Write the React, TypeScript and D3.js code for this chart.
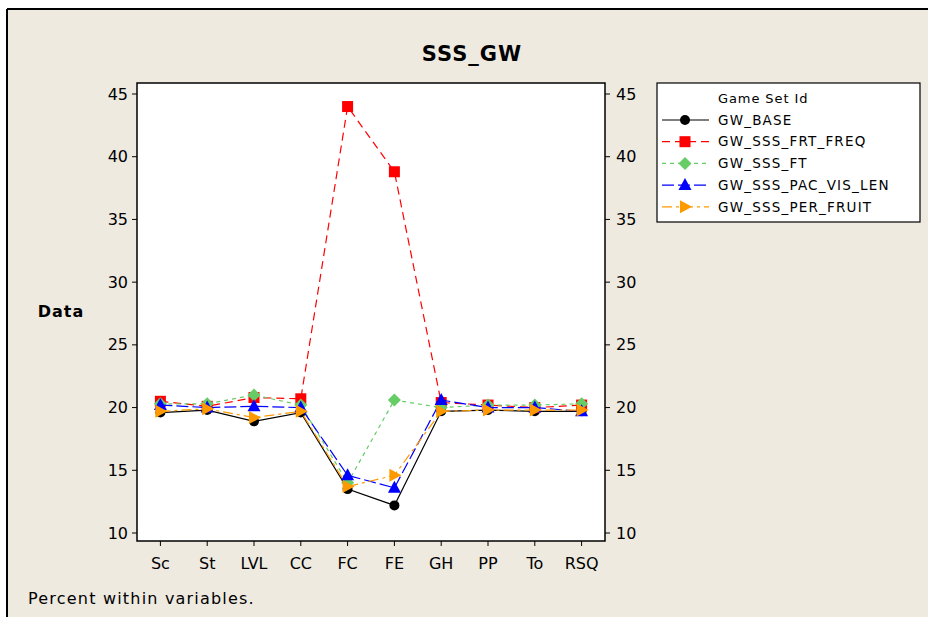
import React from "react";
import * as d3 from "d3";

const categories = ["Sc", "St", "LVL", "CC", "FC", "FE", "GH", "PP", "To", "RSQ"];
const gwBase = [19.6, 19.8, 18.9, 19.6, 13.5, 12.2, 19.7, 19.8, 19.7, 19.7];
const gwFrtFreq = [20.5, 20.1, 20.8, 20.7, 44.0, 38.8, 20.4, 20.2, 20.0, 20.2];
const gwFt = [20.3, 20.3, 21.0, 20.2, 14.0, 20.6, 20.0, 20.2, 20.2, 20.3];
const gwPacVisLen = [20.2, 20.0, 20.1, 20.0, 14.6, 13.6, 20.6, 20.0, 20.0, 19.7];
const gwPerFruit = [19.7, 19.9, 19.2, 19.7, 13.7, 14.6, 19.7, 19.8, 19.8, 19.8];
const yTicks = [10, 15, 20, 25, 30, 35, 40, 45];

const seriesNames = ["GW_BASE", "GW_SSS_FRT_FREQ", "GW_SSS_FT", "GW_SSS_PAC_VIS_LEN", "GW_SSS_PER_FRUIT"];
const seriesValues = [gwBase, gwFrtFreq, gwFt, gwPacVisLen, gwPerFruit];
const seriesColors = ["#000000", "#ff0000", "#66cc66", "#0000ff", "#ff9900"];
const seriesDash = ["", "8,5", "4,4", "12,4", "10,4,3,4"];
const seriesShapes = ["circle", "square", "diamond", "triangle", "right"];

const FONT = "'DejaVu Sans', Verdana, sans-serif";

function Marker({ shape, x, y, color }: { shape: string; x: number; y: number; color: string }) {
  if (shape === "circle") return <circle cx={x} cy={y} r={5} fill={color} />;
  if (shape === "square") return <rect x={x - 5.5} y={y - 5.5} width={11} height={11} fill={color} />;
  if (shape === "diamond")
    return <path d={`M${x},${y - 6.5}L${x + 6.5},${y}L${x},${y + 6.5}L${x - 6.5},${y}Z`} fill={color} />;
  if (shape === "triangle")
    return <path d={`M${x},${y - 7}L${x + 6.5},${y + 5}L${x - 6.5},${y + 5}Z`} fill={color} />;
  return <path d={`M${x + 7},${y}L${x - 5},${y + 6.5}L${x - 5},${y - 6.5}Z`} fill={color} />;
}

export default function App() {
  const W = 928, H = 617;
  const left = 137, right = 605, top = 83, bottom = 541;
  const x = d3.scalePoint<string>().domain(categories).range([left, right]).padding(0.5);
  const y = d3.scaleLinear().domain([10, 45]).range([533, 94]);
  const line = d3.line<number>().x((_, i) => x(categories[i])!).y((d) => y(d));

  return (
    <svg width={W} height={H} style={{ position: "absolute", left: 0, top: 0 }}>
      <rect x={0} y={0} width={W} height={H} fill="#ffffff" />
      <rect x={7} y={9} width={W - 7} height={H - 9} fill="#eeeae0" />
      <line x1={7} y1={9} x2={W} y2={9} stroke="#000" strokeWidth={2} />
      <line x1={7} y1={9} x2={7} y2={H} stroke="#000" strokeWidth={2} />

      <text x={472} y={61} textAnchor="middle" fontFamily={FONT} fontWeight="bold" fontSize={21} letterSpacing={1}>SSS_GW</text>

      <rect x={left} y={top} width={right - left} height={bottom - top} fill="#fff" stroke="#000" strokeWidth={1.5} />

      {yTicks.map((t) => (
        <g key={t}>
          <line x1={left - 5} x2={left} y1={y(t)} y2={y(t)} stroke="#000" />
          <line x1={right} x2={right + 5} y1={y(t)} y2={y(t)} stroke="#000" />
          <text x={left - 9} y={y(t)} dy="0.35em" textAnchor="end" fontFamily={FONT} fontSize={16}>{t}</text>
          <text x={right + 11} y={y(t)} dy="0.35em" textAnchor="start" fontFamily={FONT} fontSize={16}>{t}</text>
        </g>
      ))}
      {categories.map((c) => (
        <g key={c}>
          <line x1={x(c)} x2={x(c)} y1={bottom} y2={bottom + 5} stroke="#000" />
          <text x={x(c)} y={569} textAnchor="middle" fontFamily={FONT} fontSize={16}>{c}</text>
        </g>
      ))}

      <text x={61} y={317} textAnchor="middle" fontFamily={FONT} fontWeight="bold" fontSize={16} letterSpacing={1}>Data</text>
      <text x={28} y={604} fontFamily={FONT} fontSize={16} letterSpacing={1.2}>Percent within variables.</text>

      {seriesValues.map((vals, si) => (
        <g key={si}>
          <path d={line(vals)!} fill="none" stroke={seriesColors[si]} strokeWidth={1.2} strokeDasharray={seriesDash[si]} />
          {vals.map((v, i) => (
            <Marker key={i} shape={seriesShapes[si]} x={x(categories[i])!} y={y(v)} color={seriesColors[si]} />
          ))}
        </g>
      ))}

      <rect x={657} y={83} width={263} height={139} fill="#fff" stroke="#000" strokeWidth={1.2} />
      <text x={718} y={103} fontFamily={FONT} fontSize={13} letterSpacing={0.9}>Game Set Id</text>
      {seriesNames.map((n, i) => {
        const ly = 120 + i * 21.7;
        return (
          <g key={n}>
            <line x1={662} x2={709} y1={ly} y2={ly} stroke={seriesColors[i]} strokeWidth={1.2} strokeDasharray={seriesDash[i]} />
            <Marker shape={seriesShapes[i]} x={685} y={ly} color={seriesColors[i]} />
            <text x={718} y={ly} dy="0.35em" fontFamily={FONT} fontSize={13.5} letterSpacing={1.2}>{n}</text>
          </g>
        );
      })}
    </svg>
  );
}
